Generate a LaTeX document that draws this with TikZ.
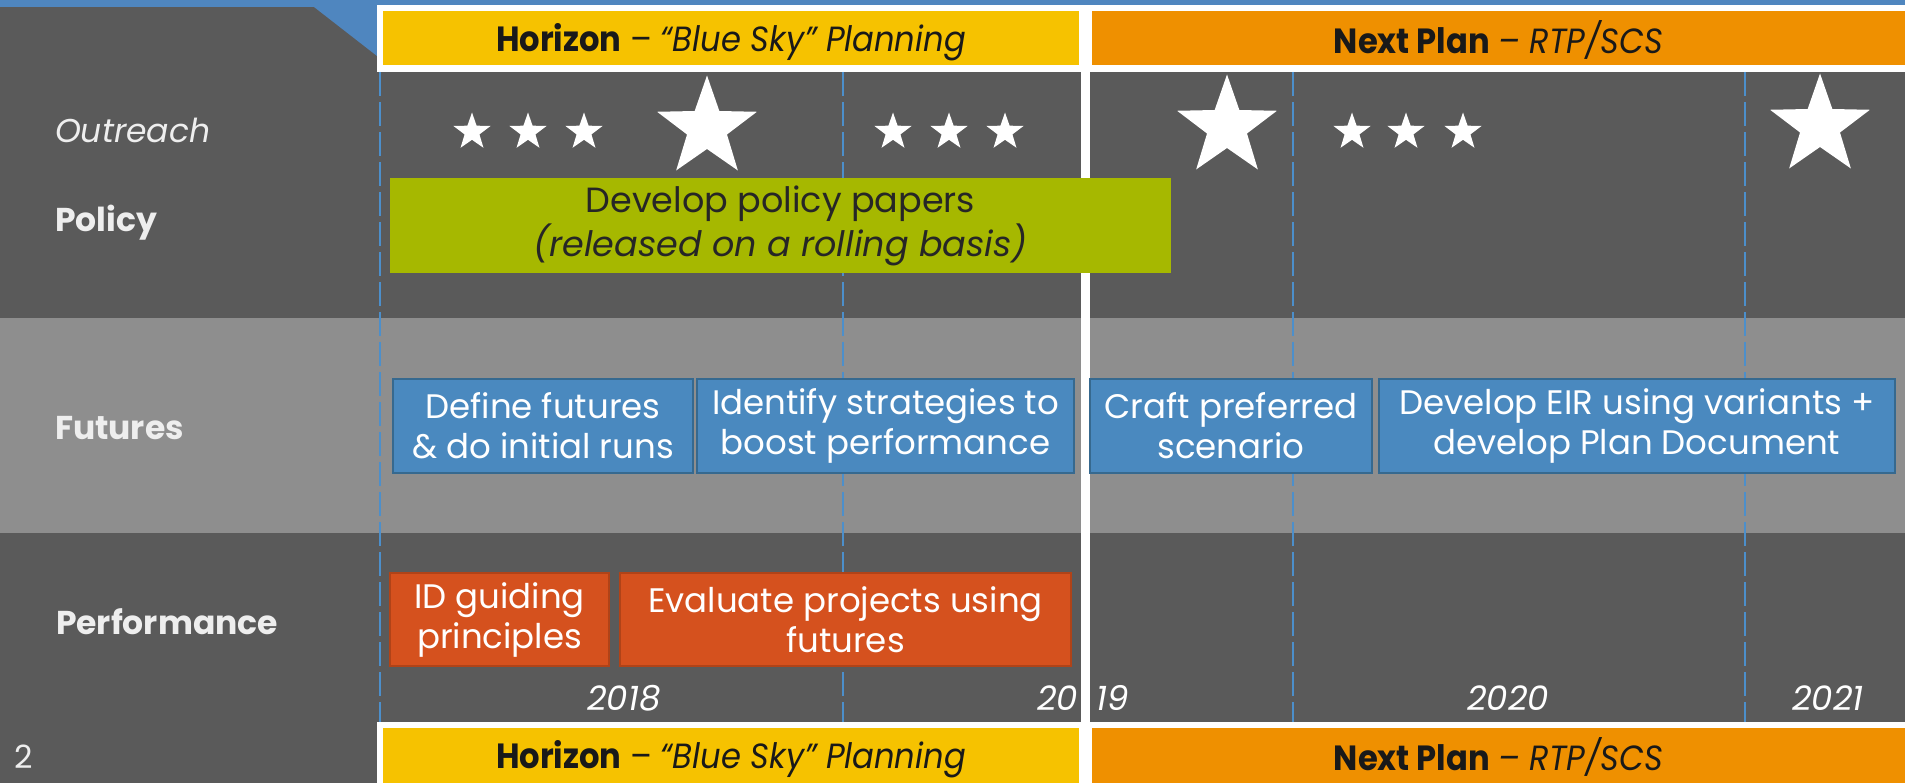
\documentclass[tikz,border=0pt]{standalone}
\usepackage{fontspec}
\setmainfont{Poppins}
\newfontfamily\headfont[FakeStretch=0.92]{Poppins}
\usetikzlibrary{positioning,shapes.geometric}

\definecolor{bodyGray}{HTML}{5A5A5A}
\definecolor{bandGray}{HTML}{8E8E8E}
\definecolor{skyBlue}{HTML}{4F86BF}
\definecolor{horizonYellow}{HTML}{F6C200}
\definecolor{planOrange}{HTML}{EF9000}
\definecolor{policyGreen}{HTML}{A6B800}
\definecolor{futureBlue}{HTML}{4A89BF}
\definecolor{futureEdge}{HTML}{36698F}
\definecolor{perfRed}{HTML}{D5511E}
\definecolor{perfEdge}{HTML}{B04318}
\definecolor{gridBlue}{HTML}{4C8FCB}
\definecolor{labelWhite}{HTML}{EEEEEE}

\begin{document}
\begin{tikzpicture}[x=1pt,y=-1pt,outer sep=0pt]
            \tikzstyle{header}=[inner sep=0pt, text=black!90, font=\headfont\fontsize{35}{38}\selectfont]
            \tikzstyle{rowlabel}=[anchor=west, inner sep=0pt, text=labelWhite, font=\fontsize{33}{36}\selectfont\bfseries]
            \tikzstyle{task}=[inner sep=0pt, align=center, text=white, font=\fontsize{34}{40}\selectfont]
            \tikzstyle{futbox}=[task, fill=futureBlue, draw=futureEdge, line width=2pt, minimum height=94pt]
            \tikzstyle{perfbox}=[task, fill=perfRed, draw=perfEdge, line width=2pt, minimum height=93pt]
            \tikzstyle{year}=[inner sep=0pt, text=white, font=\fontsize{34}{38}\selectfont\itshape]
            \tikzstyle{smallstar}=[star, star points=5, star point ratio=2.5, fill=white, minimum size=39pt, inner sep=0pt]
            \tikzstyle{bigstar}=[smallstar, minimum size=105pt]
            \tikzstyle{gridline}=[gridBlue, line width=2pt, dash pattern=on 24pt off 6pt]

            \useasboundingbox (0,0) rectangle (1905,783);
            \fill[bodyGray] (0,0) rectangle (1905,783);
            \fill[skyBlue]  (0,0) rectangle (1905,7);
            \fill[skyBlue]  (314,7) -- (377,7) -- (377,56) -- cycle;
            \fill[bandGray] (0,318) rectangle (1905,533);
            \fill[white]    (377,5) rectangle (1905,72);
            \fill[white]    (377,722) rectangle (1905,783);

            % phase headers
            \node[header, fill=horizonYellow, minimum width=696pt, minimum height=54pt] (hzTop) at (731,38)
                {\rule{0pt}{36pt}\textbf{Horizon} – \textit{“Blue Sky” Planning}};
            \node[header, fill=planOrange, minimum width=813pt, minimum height=54pt, right=13pt of hzTop] (npTop)
                {\rule{0pt}{36pt}\textbf{Next Plan} \textit{– RTP/SCS}};
            \node[header, fill=horizonYellow, minimum width=696pt, minimum height=55pt] (hzBot) at (731,755.5)
                {\rule{0pt}{36pt}\textbf{Horizon} – \textit{“Blue Sky” Planning}};
            \node[header, fill=planOrange, minimum width=813pt, minimum height=55pt, right=13pt of hzBot] (npBot)
                {\rule{0pt}{36pt}\textbf{Next Plan} \textit{– RTP/SCS}};

            \foreach \x in {380,843,1293,1745}
                \draw[gridline] (\x,72) -- (\x,722);

            % years
            \node[year] (y2018) at (624,698)  {2018};
            \node[year, anchor=west] (y2019) at (1037,698) {20\hspace{19pt}19};
            \node[year] (y2020) at (1508,698) {2020};
            \node[year] (y2021) at (1828,698) {2021};

            \fill[white] (1081,5) rectangle (1090,783);

            % outreach
            \node[smallstar] (s1) at (472,132)  {};
            \node[smallstar] (s2) at (528,132)  {};
            \node[smallstar] (s3) at (584,132)  {};
            \node[bigstar]   (b1) at (707,128)  {};
            \node[smallstar] (s4) at (893,132)  {};
            \node[smallstar] (s5) at (949,132)  {};
            \node[smallstar] (s6) at (1005,132) {};
            \node[bigstar]   (b2) at (1227,127) {};
            \node[smallstar] (s7) at (1352,132) {};
            \node[smallstar] (s8) at (1406,132) {};
            \node[smallstar] (s9) at (1463,132) {};
            \node[bigstar]   (b3) at (1820,126) {};

            % tasks
            \node[task, fill=policyGreen, text=black!85, font=\fontsize{35}{44}\selectfont, minimum width=781pt, minimum height=95pt] (policy) at (780.5,225.5)
                {Develop policy papers\\\textit{(released on a rolling basis)}};

            \node[futbox, minimum width=300pt] (fut1) at (543,426) {Define futures\\\& do initial runs};
            \node[futbox, minimum width=377pt, right=4pt of fut1]  (fut2) {Identify strategies to\\boost performance};
            \node[futbox, minimum width=282pt, right=16pt of fut2] (fut3) {Craft preferred\\scenario};
            \node[futbox, minimum width=516pt, right=7pt of fut3]  (fut4) {Develop EIR using variants +\\develop Plan Document};

            \node[perfbox, minimum width=219pt] (perf1) at (499.5,619.5) {ID guiding\\principles};
            \node[perfbox, minimum width=451pt, right=11pt of perf1] (perf2) {Evaluate projects using\\futures};

            % row labels
            \node[rowlabel, font=\fontsize{33}{36}\selectfont\itshape] (outreach) at (55,130) {Outreach};
            \node[rowlabel] (policyLbl) at (55,223) {Policy};
            \node[rowlabel] (futLbl)    at (55,428) {Futures};
            \node[rowlabel] (perfLbl)   at (56,622) {Performance};
            \node[rowlabel, font=\fontsize{32}{36}\selectfont] (page) at (14,757) {2};
\end{tikzpicture}
\end{document}
